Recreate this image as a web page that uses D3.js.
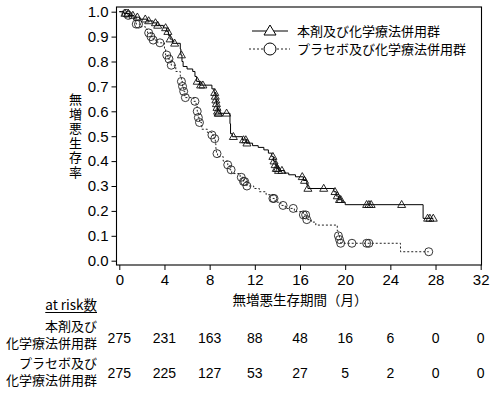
<!DOCTYPE html>
<html><head><meta charset="utf-8">
<script src="https://cdn.jsdelivr.net/npm/d3@7"></script>
<style>
html,body{margin:0;padding:0;background:#fff;}
svg{display:block;}
text{font-family:"Liberation Sans","Noto Sans CJK JP",sans-serif;fill:#000;}
.jp{font-family:"Noto Sans CJK JP","Liberation Sans",sans-serif;}
</style></head>
<body>
<script>
// ---- data ----
const timeTicks = [0,4,8,12,16,20,24,28,32];
const survTicks = [0,0.1,0.2,0.3,0.4,0.5,0.6,0.7,0.8,0.9,1.0];
const armNames = ["本剤及び化学療法併用群","プラセボ及び化学療法併用群"];
const armA_times = [0.4,0.9,1.3,1.8,2.5,3.0,3.3,3.9,4.2,4.35,4.5,4.7,5.4,5.45,5.55,5.65,6.0,6.5,6.7,6.85,7.1,8.2,8.4,8.5,8.55,8.6,8.65,8.7,8.75,9.8,9.85,10.0,10.9,11.25,11.8,12.3,12.8,13.2,13.5,13.65,13.8,13.9,14.1,14.6,15.0,15.6,16.3,16.6,16.7,19.0,19.2,19.4,19.7,20.0,26.9];
const armA_surv  = [0.993,0.985,0.978,0.97,0.963,0.955,0.945,0.935,0.92,0.905,0.89,0.873,0.85,0.826,0.80,0.78,0.77,0.76,0.74,0.72,0.705,0.69,0.675,0.66,0.645,0.63,0.615,0.6,0.592,0.55,0.51,0.498,0.485,0.472,0.462,0.455,0.445,0.432,0.418,0.40,0.385,0.37,0.362,0.352,0.345,0.337,0.322,0.305,0.29,0.277,0.26,0.245,0.235,0.225,0.17];
const armA_censor = [0.5,0.8,1.2,1.6,2.3,2.6,3.2,3.4,4.1,4.3,4.5,4.9,5.5,6.9,7.2,7.4,8.45,8.5,8.55,8.6,8.65,8.7,8.75,8.8,9.5,10.1,11.0,11.2,11.3,13.6,13.7,13.8,13.9,14.0,14.1,14.4,16.2,16.4,16.7,18.1,19.1,19.3,19.5,19.6,21.9,22.1,22.3,25.0,27.3,27.5,27.8];
const armB_times = [0.4,0.8,1.1,1.3,1.5,1.9,2.3,2.5,2.8,3.0,3.4,4.0,4.1,4.3,4.6,5.0,5.4,5.5,5.6,5.7,5.8,6.6,6.8,6.9,7.0,7.1,7.3,7.8,8.2,8.4,8.5,8.55,8.6,8.7,9.2,9.6,9.8,9.95,10.7,11.0,11.3,11.9,12.4,13.0,13.6,13.8,14.3,14.7,15.5,16.3,16.6,17.0,17.4,19.3,19.4,19.5,19.6,24.9];
const armB_surv  = [0.993,0.985,0.975,0.965,0.95,0.94,0.93,0.915,0.9,0.886,0.875,0.85,0.826,0.81,0.785,0.76,0.74,0.72,0.70,0.68,0.655,0.64,0.62,0.60,0.575,0.555,0.528,0.515,0.505,0.49,0.47,0.45,0.43,0.418,0.40,0.385,0.365,0.35,0.335,0.318,0.30,0.29,0.277,0.265,0.25,0.235,0.222,0.21,0.197,0.184,0.165,0.155,0.143,0.12,0.10,0.085,0.07,0.036];
const armB_censor = [0.6,0.8,1.5,1.7,2.6,2.8,3.0,3.6,4.2,4.4,4.6,5.5,5.6,5.7,5.85,6.7,6.9,7.0,7.1,8.2,8.45,8.65,9.6,9.9,10.8,11.0,11.1,11.3,13.6,13.7,14.5,15.4,16.3,16.5,16.6,19.4,19.5,19.6,20.6,21.9,22.1,27.4];
const atRiskA = [275,231,163,88,48,16,6,0,0];
const atRiskB = [275,225,127,53,27,5,2,0,0];
const atRiskLabelA = ["本剤及び","化学療法併用群"];
const atRiskLabelB = ["プラセボ及び","化学療法併用群"];

// ---- chart ----
const W=491,H=394;
const svg=d3.select("body").append("svg").attr("width",W).attr("height",H);
const x=d3.scaleLinear().domain([0,32]).range([119.3,480.7]);
const y=d3.scaleLinear().domain([0,1]).range([260.7,11.7]);
const frame={l:116.5,r:481.5,t:7,b:265};

// axes
const yAxis=svg.append("g").attr("transform",`translate(${frame.l},0)`)
  .call(d3.axisLeft(y).tickValues(survTicks).tickFormat(d3.format(".1f")).tickSize(5).tickPadding(3));
const xAxis=svg.append("g").attr("transform",`translate(0,${frame.b})`)
  .call(d3.axisBottom(x).tickValues(timeTicks).tickSize(5).tickPadding(4));
[yAxis,xAxis].forEach(g=>{
  g.select(".domain").remove();
  g.selectAll(".tick line").attr("stroke","#000").attr("stroke-width",1);
  g.selectAll("text").attr("font-size",15).attr("font-family","Liberation Sans");
});
svg.append("rect").attr("x",frame.l).attr("y",frame.t).attr("width",frame.r-frame.l).attr("height",frame.b-frame.t)
  .attr("fill","none").attr("stroke","#000").attr("stroke-width",1.1);

function stepVal(times,surv,t){let s=1;for(let i=0;i<times.length;i++){if(times[i]<=t)s=surv[i];}return s;}
function pts(times,surv,censor){
  const p=[{t:0,s:1}];
  times.forEach((t,i)=>p.push({t:t,s:surv[i]}));
  const end=d3.max(censor);
  p.push({t:end,s:stepVal(times,surv,end)});
  return p;
}
const line=d3.line().x(d=>x(d.t)).y(d=>y(d.s)).curve(d3.curveStepAfter);
const triPath=(w,h)=>`M0,${-h*0.6}L${w/2},${h*0.4}L${-w/2},${h*0.4}Z`;

// arm B (dotted)
svg.append("path").datum(pts(armB_times,armB_surv,armB_censor)).attr("d",line)
  .attr("fill","none").attr("stroke","#222").attr("stroke-width",1).attr("stroke-dasharray","2,2");
svg.append("g").selectAll("circle").data(armB_censor).join("circle")
  .attr("cx",d=>x(d)).attr("cy",d=>y(stepVal(armB_times,armB_surv,d))).attr("r",4)
  .attr("fill","none").attr("stroke","#222").attr("stroke-width",0.9);
// arm A (solid)
svg.append("path").datum(pts(armA_times,armA_surv,armA_censor)).attr("d",line)
  .attr("fill","none").attr("stroke","#000").attr("stroke-width",1);
svg.append("g").selectAll("path").data(armA_censor).join("path")
  .attr("transform",d=>`translate(${x(d)},${y(stepVal(armA_times,armA_surv,d))})`)
  .attr("d",triPath(8,7)).attr("fill","none").attr("stroke","#111").attr("stroke-width",0.9);

// legend
const lg=svg.append("g");
lg.append("line").attr("x1",252).attr("x2",288).attr("y1",31).attr("y2",31).attr("stroke","#000");
lg.append("path").attr("transform","translate(270,31)").attr("d",triPath(12,10)).attr("fill","white").attr("stroke","#000");
lg.append("line").attr("x1",249).attr("x2",290).attr("y1",49).attr("y2",49).attr("stroke","#222").attr("stroke-dasharray","2,2");
lg.append("circle").attr("cx",270).attr("cy",49).attr("r",6).attr("fill","white").attr("stroke","#000");
lg.selectAll("text").data(armNames).join("text").attr("class","jp")
  .attr("x",297).attr("y",(d,i)=>31+i*18).attr("dy","0.36em").attr("font-size",13).text(d=>d);

// y title (vertical, upright characters)
svg.append("text").attr("class","jp")
  .attr("x",75.5).attr("y",136.5).attr("text-anchor","middle")
  .style("writing-mode","vertical-rl").style("text-orientation","upright")
  .attr("letter-spacing",1.5).attr("font-size",13).text("無増悪生存率");
// x title
svg.append("text").attr("class","jp").attr("x",300).attr("y",300).attr("dy","0.36em")
  .attr("text-anchor","middle").attr("font-size",13.5).text("無増悪生存期間（月）");

// at risk table
const ar=svg.append("text").attr("class","jp").attr("x",97).attr("y",305).attr("dy","0.36em")
  .attr("text-anchor","end").attr("font-size",13.5).text("at risk数");
const arw=ar.node().getComputedTextLength();
svg.append("line").attr("x1",97-arw).attr("x2",97).attr("y1",312.5).attr("y2",312.5).attr("stroke","#000");
function rowLabel(lines,y0){
  svg.append("g").selectAll("text").data(lines).join("text").attr("class","jp")
    .attr("x",97).attr("y",(d,i)=>y0+i*17.5).attr("dy","0.36em").attr("text-anchor","end")
    .attr("font-size",13).text(d=>d);
}
rowLabel(atRiskLabelA,326);
rowLabel(atRiskLabelB,363);
function rowVals(vals,yc){
  svg.append("g").selectAll("text").data(vals).join("text")
    .attr("x",(d,i)=>x(timeTicks[i])).attr("y",yc).attr("dy","0.36em").attr("text-anchor","middle")
    .attr("font-size",14).text(d=>d);
}
rowVals(atRiskA,338);
rowVals(atRiskB,373);
</script>
</body></html>
